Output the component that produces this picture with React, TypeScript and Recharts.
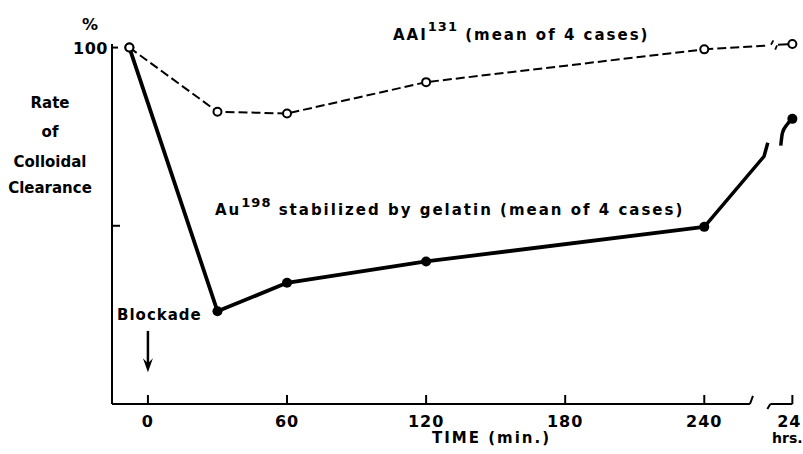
import { ComposedChart, Line, XAxis, YAxis, ReferenceLine } from 'recharts'

const FONT = '"DejaVu Sans", sans-serif'

// time after blockade (min.); first point is the control value before blockade
const minutes = [-8, 30, 60, 120, 240]
const aaiRate = [100, 82, 81.5, 90.3, 99.5]
const auRate = [100, 26, 34, 40, 49.7]

// "24 hrs" sits beyond the axis break; this is where it is placed on the minute scale
const hrs24Pos = 278
const aai24 = 101
const au24 = 80

const xTicks = [0, 60, 120, 180, 240, hrs24Pos]
const yTicks = [50, 100]

// pieces of the lines either side of the break
const auBreakA = [
  { t: 240, v: 49.7 },
  { t: 265.8, v: 69.5 },
  { t: 267.4, v: 73.3 },
]
const auBreakB = [
  { t: 273, v: 72.5 },
  { t: 273.7, v: 76 },
  { t: 275.6, v: 78.3 },
  { t: hrs24Pos, v: au24 },
]
const aaiBreakA = [
  { t: 240, v: 99.5 },
  { t: 268, v: 100.6 },
]
const aaiBreakB = [
  { t: 271.8, v: 100.8 },
  { t: hrs24Pos, v: aai24 },
]

const aaiRows = minutes.map((t, i) => ({ t, v: aaiRate[i] }))
const auRows = minutes.map((t, i) => ({ t, v: auRate[i] }))

const solidDot = (p: any) => <circle key={`s${p.index}`} cx={p.cx} cy={p.cy} r={5} fill="#000" />
const openDot = (p: any) => (
  <circle key={`o${p.index}`} cx={p.cx} cy={p.cy} r={4} fill="#fff" stroke="#000" strokeWidth={2} />
)
const lastOnly = (n: number, draw: (p: any) => any) => (p: any) =>
  p.index === n - 1 ? draw(p) : <g key={`n${p.index}`} />

function XTick({ x, y, payload }: any) {
  const is24 = payload.value === hrs24Pos
  return (
    <g fontFamily={FONT} fontWeight="bold" fill="#000">
      <line x1={x} y1={y} x2={x} y2={y - 9} stroke="#000" strokeWidth={2} />
      <text x={is24 ? x - 3 : x} y={y + 23} textAnchor="middle" fontSize={16} letterSpacing={1}>
        {is24 ? '24' : payload.value}
      </text>
      {is24 && (
        <text x={x - 5} y={y + 39} textAnchor="middle" fontSize={14}>
          hrs.
        </text>
      )}
    </g>
  )
}

function YTick({ x, y, payload }: any) {
  const top = payload.value === 100
  return (
    <g fontFamily={FONT} fontWeight="bold" fill="#000">
      <line x1={x} y1={y} x2={x + (top ? 6 : 8)} y2={y} stroke="#000" strokeWidth={2} />
      {top && (
        <text x={x - 4} y={y + 6} textAnchor="end" fontSize={16} letterSpacing={0.5}>
          100
        </text>
      )}
    </g>
  )
}

function Arrow(props: any) {
  const { x1, y1, x2, y2 } = props
  return (
    <g>
      <line x1={x1} y1={y1} x2={x2} y2={y2 - 6} stroke="#000" strokeWidth={2.5} />
      <path d={`M${x2 - 5},${y2 - 14} L${x2},${y2} L${x2 + 5},${y2 - 14} L${x2},${y2 - 9} Z`} fill="#000" />
    </g>
  )
}

const seg = (a: [number, number], b: [number, number], w = 2) => (
  <ReferenceLine
    key={`${a[0]}-${a[1]}-${b[0]}`}
    segment={[{ x: a[0], y: a[1] }, { x: b[0], y: b[1] }]}
    stroke="#000"
    strokeWidth={w}
    ifOverflow="visible"
  />
)

export default function App() {
  return (
    <div style={{ position: 'absolute', left: 0, top: 0, width: 803, height: 454, background: '#fff' }}>
      <ComposedChart width={803} height={454} margin={{ top: 44, right: 6, bottom: 20, left: 72 }}>
        <XAxis
          type="number"
          dataKey="t"
          domain={[-15.5, 280]}
          ticks={xTicks}
          interval={0}
          axisLine={false}
          tickLine={false}
          tickSize={0}
          tickMargin={0}
          height={30}
          tick={<XTick />}
        />
        <YAxis
          type="number"
          domain={[0, 100]}
          ticks={yTicks}
          interval={0}
          width={40}
          axisLine={{ stroke: '#000', strokeWidth: 2 }}
          tickLine={false}
          tickSize={0}
          tickMargin={0}
          tick={<YTick />}
        />

        {/* broken time axis */}
        {seg([-15.5, 0], [259.7, 0])}
        {seg([259.7, 0], [261, 2.3])}
        {seg([267.2, -1.4], [268.5, 0])}
        {seg([268.5, 0], [hrs24Pos, 0])}

        {/* break marks on the AAI line */}
        {seg([268.8, 100.8], [269.8, 102], 1.8)}
        {seg([270.6, 99.4], [271.4, 100.6], 1.8)}

        <ReferenceLine
          segment={[{ x: 0, y: 20.5 }, { x: 0, y: 8.9 }]}
          ifOverflow="visible"
          shape={<Arrow />}
        />

        <Line data={auRows} dataKey="v" type="linear" stroke="#000" strokeWidth={3.8} dot={solidDot} activeDot={false} isAnimationActive={false} />
        <Line data={auBreakA} dataKey="v" type="linear" stroke="#000" strokeWidth={3.5} dot={false} activeDot={false} isAnimationActive={false} />
        <Line
          data={auBreakB}
          dataKey="v"
          type="monotoneX"
          stroke="#000"
          strokeWidth={3.5}
          dot={lastOnly(auBreakB.length, solidDot)}
          activeDot={false}
          isAnimationActive={false}
        />

        <Line data={aaiRows} dataKey="v" type="linear" stroke="#000" strokeWidth={2} strokeDasharray="9 4" dot={openDot} activeDot={false} isAnimationActive={false} />
        <Line data={aaiBreakA} dataKey="v" type="linear" stroke="#000" strokeWidth={2} strokeDasharray="9 4" dot={false} activeDot={false} isAnimationActive={false} />
        <Line
          data={aaiBreakB}
          dataKey="v"
          type="linear"
          stroke="#000"
          strokeWidth={2}
          dot={lastOnly(aaiBreakB.length, openDot)}
          activeDot={false}
          isAnimationActive={false}
        />
      </ComposedChart>

      <svg
        width={803}
        height={454}
        style={{ position: 'absolute', left: 0, top: 0, pointerEvents: 'none' }}
        fontFamily={FONT}
        fontWeight="bold"
        fill="#000"
      >
        <text x={90} y={30} textAnchor="middle" fontSize={16}>%</text>
        <text x={50} y={108} textAnchor="middle" fontSize={15}>Rate</text>
        <text x={50} y={137} textAnchor="middle" fontSize={15}>of</text>
        <text x={50} y={167} textAnchor="middle" fontSize={15}>Colloidal</text>
        <text x={50} y={193} textAnchor="middle" fontSize={15}>Clearance</text>

        <text x={393} y={40} fontSize={15} letterSpacing={2}>
          AAI
          <tspan fontSize={13} dy={-9} letterSpacing={1}>131</tspan>
          <tspan dy={9}> (mean of 4 cases)</tspan>
        </text>
        <text x={215} y={215} fontSize={15} letterSpacing={2}>
          Au
          <tspan fontSize={13} dy={-8} letterSpacing={1}>198</tspan>
          <tspan dy={8}> stabilized by gelatin (mean of 4 cases)</tspan>
        </text>

        <text x={117} y={320} fontSize={15} letterSpacing={1}>Blockade</text>
        <text x={432} y={443} fontSize={15} letterSpacing={2}>TIME (min.)</text>
      </svg>
    </div>
  )
}
